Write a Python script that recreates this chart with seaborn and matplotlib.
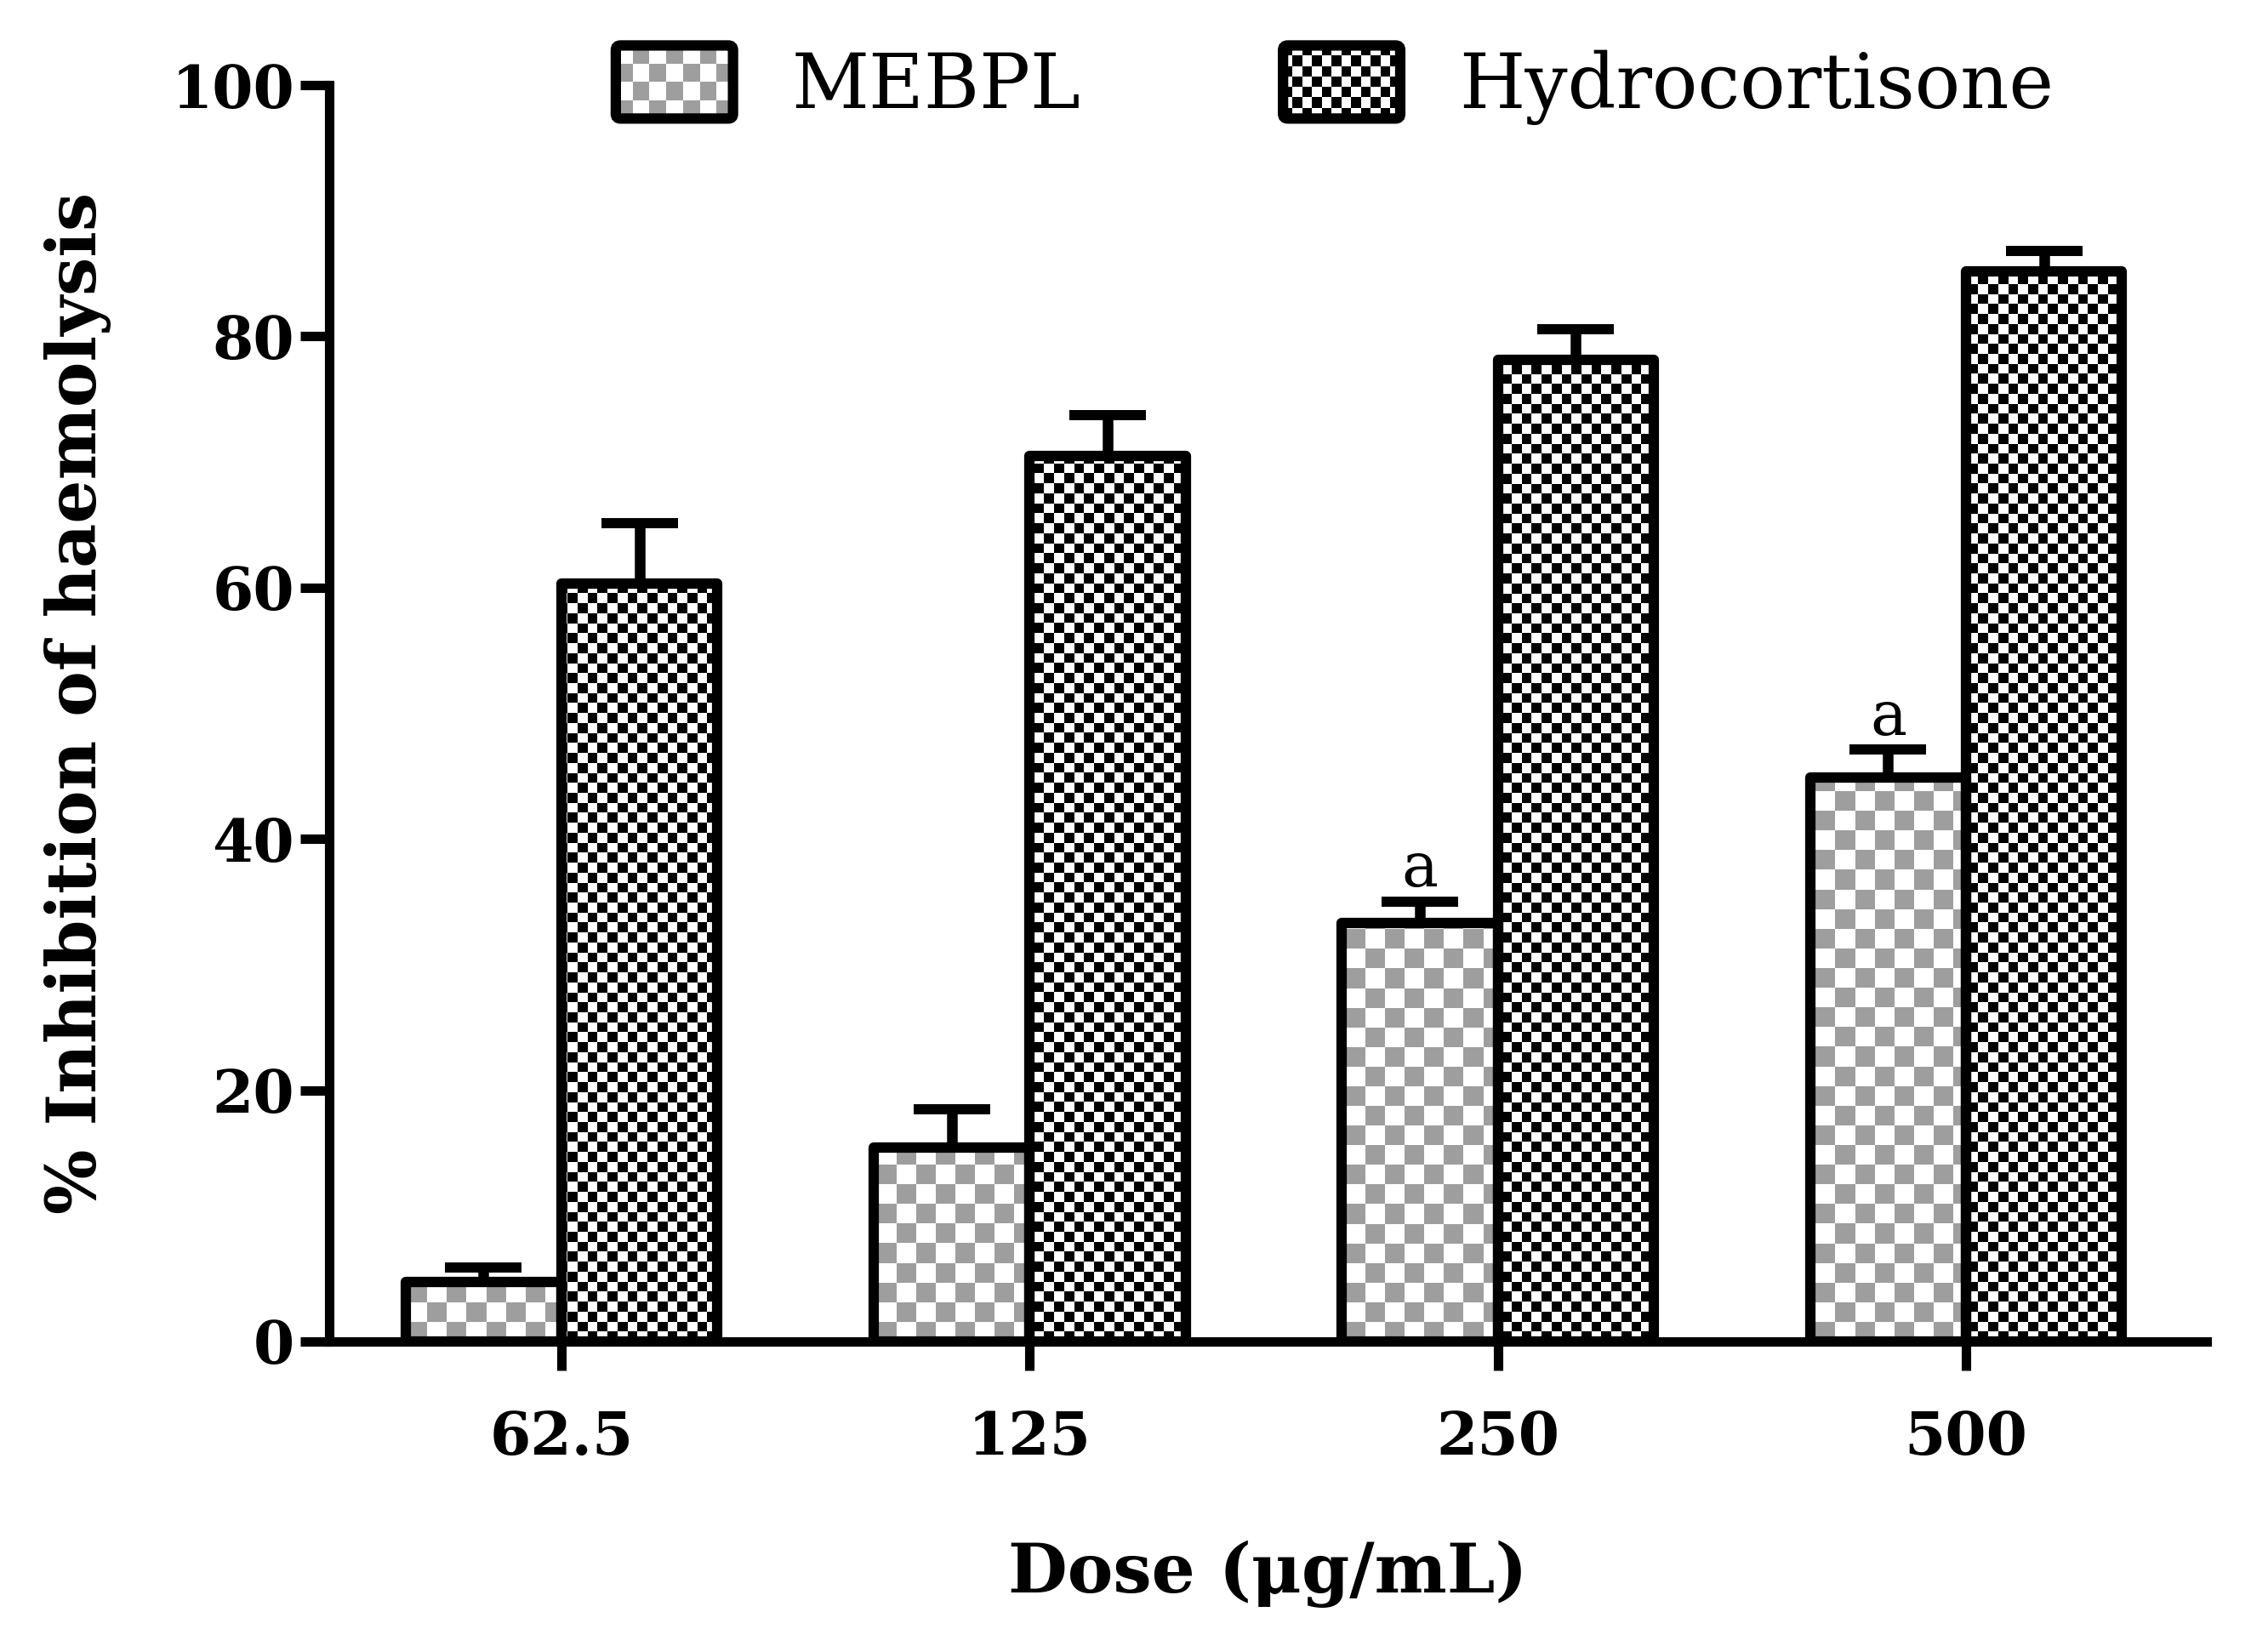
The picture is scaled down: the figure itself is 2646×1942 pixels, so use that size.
import numpy as np
import pandas as pd
import matplotlib
matplotlib.use("Agg")
import matplotlib.pyplot as plt
import seaborn as sns
from matplotlib.legend_handler import HandlerBase
from matplotlib.image import BboxImage
from matplotlib.transforms import Bbox, TransformedBbox
from matplotlib.patches import Rectangle, FancyBboxPatch

# ---------------- data ----------------
doses = ["62.5", "125", "250", "500"]
groups = ["MEBPL", "Hydrocortisone"]
mebpl_mean = [4.7, 15.4, 33.3, 44.9]
mebpl_err = [1.2, 3.1, 1.7, 2.2]
hydro_mean = [60.3, 70.5, 78.1, 85.2]
hydro_err = [4.8, 3.2, 2.5, 1.6]
mebpl_sig = ["", "", "a", "a"]
y_ticks = [0, 20, 40, 60, 80, 100]

# ---------------- style ----------------
sns.set_style("ticks")
plt.rcParams["font.family"] = ["DejaVu Serif"]
plt.rcParams["text.color"] = "black"
plt.rcParams["axes.labelcolor"] = "black"
plt.rcParams["xtick.color"] = "black"
plt.rcParams["ytick.color"] = "black"

DPI = 100
fig = plt.figure(figsize=(26.46, 19.42), dpi=DPI)
ax = fig.add_axes([0.1463, 0.188, 0.8340, 0.7605])

df = pd.DataFrame({
    "Dose": doses * 2,
    "Group": [groups[0]] * 4 + [groups[1]] * 4,
    "Inhibition": mebpl_mean + hydro_mean,
})

LW = 8.8
sns.barplot(data=df, x="Dose", y="Inhibition", hue="Group", order=doses,
            hue_order=groups, width=0.666, errorbar=None, edgecolor="black",
            linewidth=LW, palette=["#a0a0a0", "black"], legend=False, ax=ax)

XLIM = (-0.496, 3.514)
YLIM = (0, 100)
ax.set_xlim(*XLIM)
ax.set_ylim(*YLIM)

GREY = (0.62, 0.62, 0.62)
WHITE = (1.0, 1.0, 1.0)
BLACK = (0.0, 0.0, 0.0)
patterns = [(GREY, WHITE, 23.0), (BLACK, WHITE, 11.7)]


def checker(nr, nc, c1, c2):
    idx = np.add.outer(np.arange(nr), np.arange(nc)) % 2
    a = np.empty((nr, nc, 3))
    a[idx == 0] = c1
    a[idx == 1] = c2
    return a


# axes size in pixels
bbox_px = ax.get_window_extent(fig.canvas.get_renderer())
errs_all = [mebpl_err, hydro_err]
bar_conts = list(ax.containers)
for ci, cont in enumerate(bar_conts):
    c1, c2, sq = patterns[ci]
    nc = int(round(bbox_px.width / sq))
    nr = int(round(bbox_px.height / sq))
    arr = checker(nr, nc, c1, c2)
    xs, ys = [], []
    for p in cont.patches:
        p.set_facecolor("none")
        p.set_edgecolor("black")
        p.set_linewidth(LW)
        p.set_joinstyle("round")
        p.set_zorder(2)
        im = ax.imshow(arr, extent=(XLIM[0], XLIM[1], YLIM[0], YLIM[1]),
                       origin="lower", aspect="auto", interpolation="nearest",
                       zorder=1)
        im.set_clip_path(p)
        xs.append(p.get_x() + p.get_width() / 2)
        ys.append(p.get_height())
    errs = errs_all[ci]
    ax.errorbar(xs, ys, yerr=[np.zeros(len(errs)), errs], fmt="none",
                ecolor="black", elinewidth=9, capsize=32.4, capthick=8.6,
                zorder=3)
    if ci == 0:
        for x, y, e, s in zip(xs, ys, errs, mebpl_sig):
            if s:
                ax.text(x, y + e + 1.2, s, ha="center", va="baseline",
                        fontsize=52, color="black")

ax.set_xlim(*XLIM)
ax.set_ylim(*YLIM)
ax.set_yticks(y_ticks)
sns.despine(ax=ax)
for sp in ["left", "bottom"]:
    ax.spines[sp].set_linewidth(8.0)
    ax.spines[sp].set_color("black")
ax.tick_params(axis="both", direction="out", length=24.5, width=8.0,
               color="black", labelsize=50, labelcolor="black")
ax.tick_params(axis="y", pad=5)
ax.tick_params(axis="x", pad=33)
for lab in ax.get_xticklabels() + ax.get_yticklabels():
    lab.set_fontweight("bold")

ax.set_xlabel("Dose (μg/mL)", fontsize=58, fontweight="bold", color="black")
ax.set_ylabel("% Inhibition of haemolysis", fontsize=58, fontweight="bold",
              color="black")
ax.xaxis.set_label_coords(0.5, -0.158)
ax.yaxis.set_label_coords(-0.116, 0.508)


# ---------------- legend ----------------
class CheckerHandler(HandlerBase):
    def __init__(self, c1, c2, sq):
        super().__init__()
        self.c1, self.c2, self.sq = c1, c2, sq

    def create_artists(self, legend, orig_handle, xdescent, ydescent,
                       width, height, fontsize, trans):
        x0, y0 = -xdescent, -ydescent
        wpx = width * DPI / 72.0
        hpx = height * DPI / 72.0
        nc = max(1, int(round(wpx / self.sq)))
        nr = max(1, int(round(hpx / self.sq)))
        arr = checker(nr, nc, self.c1, self.c2)
        bb = TransformedBbox(Bbox.from_bounds(x0, y0, width, height), trans)
        im = BboxImage(bb, interpolation="nearest", origin="lower")
        im.set_data(arr)
        box = FancyBboxPatch((x0, y0), width, height,
                             boxstyle="round,pad=0,rounding_size=4",
                             fc="none", ec="black", lw=LW, transform=trans)
        return [im, box]


h1 = Rectangle((0, 0), 1, 1)
h2 = Rectangle((0, 0), 1, 1)
leg = fig.legend([h1, h2], groups, loc="center",
                 bbox_to_anchor=(0.593, 0.9485),
                 ncol=2, frameon=False, fontsize=64, handlelength=1.55,
                 handleheight=1.11, handletextpad=0.78, columnspacing=2.67,
                 borderpad=0,
                 handler_map={h1: CheckerHandler(GREY, WHITE, 20.0),
                              h2: CheckerHandler(BLACK, WHITE, 11.7)})
for t in leg.get_texts():
    t.set_color("black")

fig.savefig("out.png", dpi=DPI)
